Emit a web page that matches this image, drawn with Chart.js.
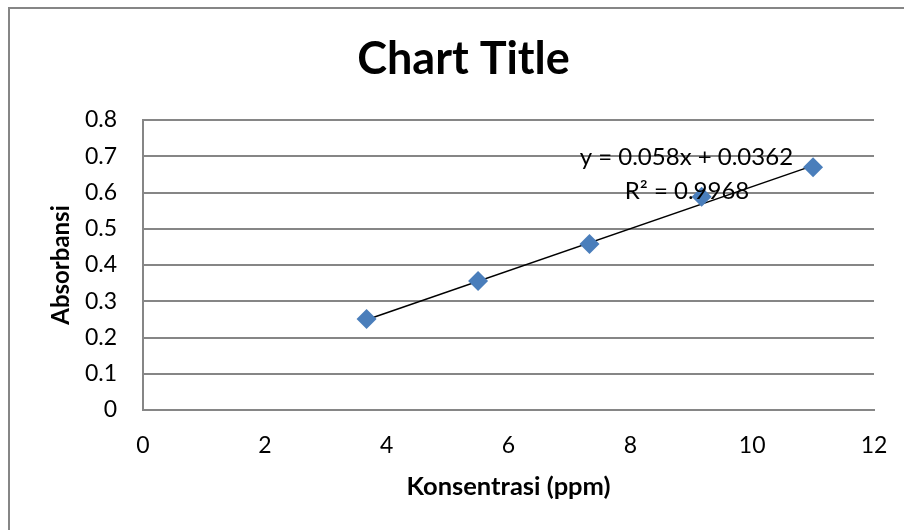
<!DOCTYPE html>
<html>
<head>
<meta charset="utf-8">
<script src="https://cdn.jsdelivr.net/npm/chart.js@4.4.1/dist/chart.umd.min.js"></script>
<style>
  html, body { margin: 0; padding: 0; background: #fff; }
  #wrap { width: 904px; height: 530px; position: relative; }
</style>
</head>
<body>
<div id="wrap"><canvas id="c" width="904" height="530"></canvas></div>
<script>
// Calibration measurements: concentration (ppm) vs absorbance
const concentration = [3.67, 5.5, 7.33, 9.17, 11];
const absorbance = [0.251, 0.356, 0.458, 0.588, 0.670];

// Linear fit reported on the chart
const slope = 0.058;
const intercept = 0.0362;
const rSquared = 0.9968;

const xTicks = [0, 2, 4, 6, 8, 10, 12];
const yTicks = [0, 0.1, 0.2, 0.3, 0.4, 0.5, 0.6, 0.7, 0.8];

const FONT = 'Lato, "Open Sans", sans-serif';
const GRID = '#868686';

const points = concentration.map((x, i) => ({ x: x, y: absorbance[i] }));
const xMin = Math.min(...concentration), xMax = Math.max(...concentration);
const fitLine = [xMin, xMax].map(x => ({ x: x, y: slope * x + intercept }));

const eqLabel = 'y = ' + slope + 'x + ' + intercept;
const r2Label = 'R\u00B2 = ' + rSquared;

// Frame around the chart area and the fit equation text
const framePlugin = {
  id: 'frame',
  beforeDraw(chart) {
    const ctx = chart.ctx;
    ctx.save();
    ctx.fillStyle = '#fff';
    ctx.fillRect(0, 0, chart.width, chart.height);
    ctx.strokeStyle = GRID;
    ctx.lineWidth = 2;
    ctx.beginPath();
    ctx.moveTo(9, chart.height);
    ctx.lineTo(9, 8);
    ctx.lineTo(chart.width, 8);
    ctx.stroke();
    ctx.restore();
  },
  afterDatasetsDraw(chart) {
    const ctx = chart.ctx;
    const xs = chart.scales.x, ys = chart.scales.y;
    ctx.save();
    ctx.fillStyle = '#000';
    ctx.font = '24px ' + FONT;
    ctx.textAlign = 'center';
    ctx.textBaseline = 'middle';
    ctx.fillText(eqLabel, xs.getPixelForValue(8.92), ys.getPixelForValue(0.698));
    ctx.fillText(r2Label, xs.getPixelForValue(8.93), ys.getPixelForValue(0.604));
    ctx.restore();
  }
};

new Chart(document.getElementById('c'), {
  data: {
    datasets: [
      {
        type: 'line',
        label: 'Linear fit',
        data: fitLine,
        borderColor: '#000',
        borderWidth: 1.5,
        pointRadius: 0,
        fill: false,
        order: 2
      },
      {
        type: 'scatter',
        label: 'Absorbansi',
        data: points,
        pointStyle: 'rectRot',
        pointRadius: 10,
        pointBackgroundColor: '#4A7EBB',
        pointBorderColor: '#4A7EBB',
        pointBorderWidth: 0,
        order: 1
      }
    ]
  },
  options: {
    responsive: false,
    animation: false,
    devicePixelRatio: 1,
    layout: { padding: { left: 53, right: 30, top: 0, bottom: 0 } },
    plugins: {
      legend: { display: false },
      tooltip: { enabled: false },
      title: {
        display: true,
        text: 'Chart Title',
        color: '#000',
        font: { family: FONT, size: 45, weight: 'bold', lineHeight: 1.2 },
        padding: { top: 32, bottom: 34 }
      }
    },
    scales: {
      x: {
        type: 'linear',
        min: 0,
        max: 12,
        afterBuildTicks(scale) { scale.ticks = xTicks.map(v => ({ value: v })); },
        afterFit(scale) {
          scale.height = 120;
          scale.paddingLeft = 0;
          scale.paddingRight = 0;
        },
        grid: { display: false, drawTicks: false },
        border: { display: true, color: GRID, width: 2 },
        ticks: { color: '#000', padding: 22, font: { family: FONT, size: 23 } },
        title: {
          display: true,
          text: 'Konsentrasi (ppm)',
          color: '#000',
          font: { family: FONT, size: 25.5, weight: 'bold', lineHeight: 1.2 },
          padding: { top: 0, bottom: 28 }
        }
      },
      y: {
        type: 'linear',
        min: 0,
        max: 0.8,
        afterBuildTicks(scale) { scale.ticks = yTicks.map(v => ({ value: v })); },
        afterFit(scale) { scale.width = 90; },
        grid: { color: GRID, lineWidth: 2, drawTicks: false },
        border: { display: true, color: GRID, width: 2 },
        ticks: {
          color: '#000',
          padding: 26,
          font: { family: FONT, size: 23 },
          callback: v => String(Math.round(v * 10) / 10)
        },
        title: {
          display: true,
          text: 'Absorbansi',
          color: '#000',
          font: { family: FONT, size: 24, weight: 'bold', lineHeight: 1.2 },
          padding: { top: -6.4, bottom: 0 }
        }
      }
    }
  },
  plugins: [framePlugin]
});
</script>
</body>
</html>
